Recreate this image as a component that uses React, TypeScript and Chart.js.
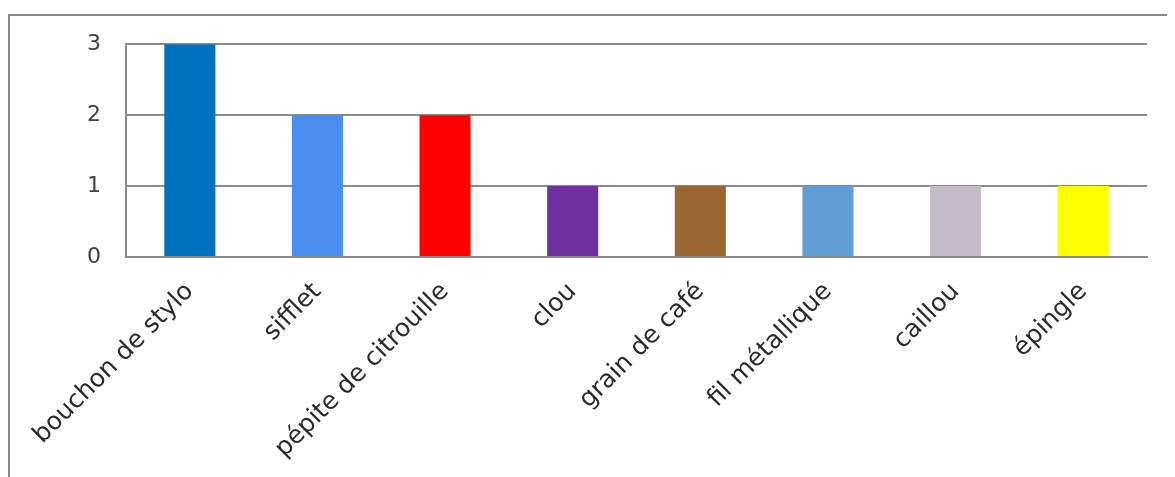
import React, { useEffect, useRef } from "react";
import { Chart, registerables } from "chart.js";

Chart.register(...registerables);

const categories = [
  "bouchon de stylo",
  "sifflet",
  "pépite de citrouille",
  "clou",
  "grain de café",
  "fil métallique",
  "caillou",
  "épingle",
];
const values = [3, 2, 2, 1, 1, 1, 1, 1];
const barColors = [
  "#0070C0",
  "#4A8EF0",
  "#FF0000",
  "#7030A0",
  "#996633",
  "#619ED5",
  "#C3BCC8",
  "#FFFF00",
];
const yTicks = [0, 1, 2, 3];

const FONT = "'DejaVu Sans', sans-serif";

export default function App() {
  const ref = useRef<HTMLCanvasElement | null>(null);
  useEffect(() => {
    if (!ref.current) return;
    const chart = new Chart(ref.current, {
      type: "bar",
      data: {
        labels: categories,
        datasets: [
          {
            data: values,
            backgroundColor: barColors,
            borderWidth: 0,
            barPercentage: 0.4,
            categoryPercentage: 1,
          },
        ],
      },
      options: {
        animation: false,
        responsive: false,
        maintainAspectRatio: false,
        layout: { padding: { top: 0, right: 28, bottom: 0, left: 0 } },
        plugins: { legend: { display: false }, tooltip: { enabled: false } },
        scales: {
          x: {
            grid: { display: false, drawTicks: false },
            border: { display: true, color: "#8a8a8a", width: 2 },
            ticks: {
              color: "#2a2a2a",
              font: { family: FONT, size: 25 },
              minRotation: 45,
              maxRotation: 45,
              autoSkip: false,
              padding: 20,
            },
            afterFit: (s: any) => {
              s.height = 210;
            },
          },
          y: {
            min: 0,
            max: 3,
            afterBuildTicks: (s: any) => {
              s.ticks = yTicks.map((v) => ({ value: v }));
            },
            grid: { color: "#8a8a8a", lineWidth: 2, drawTicks: false },
            border: { display: true, color: "#8a8a8a", width: 2 },
            ticks: {
              color: "#404040",
              font: { family: FONT, size: 22 },
              padding: 25,
            },
            afterFit: (s: any) => {
              s.width = 116;
            },
          },
        },
      },
    });
    return () => chart.destroy();
  }, []);
  return (
    <div
      style={{
        marginTop: 6,
        borderLeft: "2px solid #8a8a8a",
        borderTop: "2px solid #8a8a8a",
        width: 1165,
        height: 470,
        overflow: "hidden",
      }}
    >
      <canvas
        ref={ref}
        width={1165}
        height={461}
        style={{ display: "block", marginTop: -10 }}
      />
    </div>
  );
}
